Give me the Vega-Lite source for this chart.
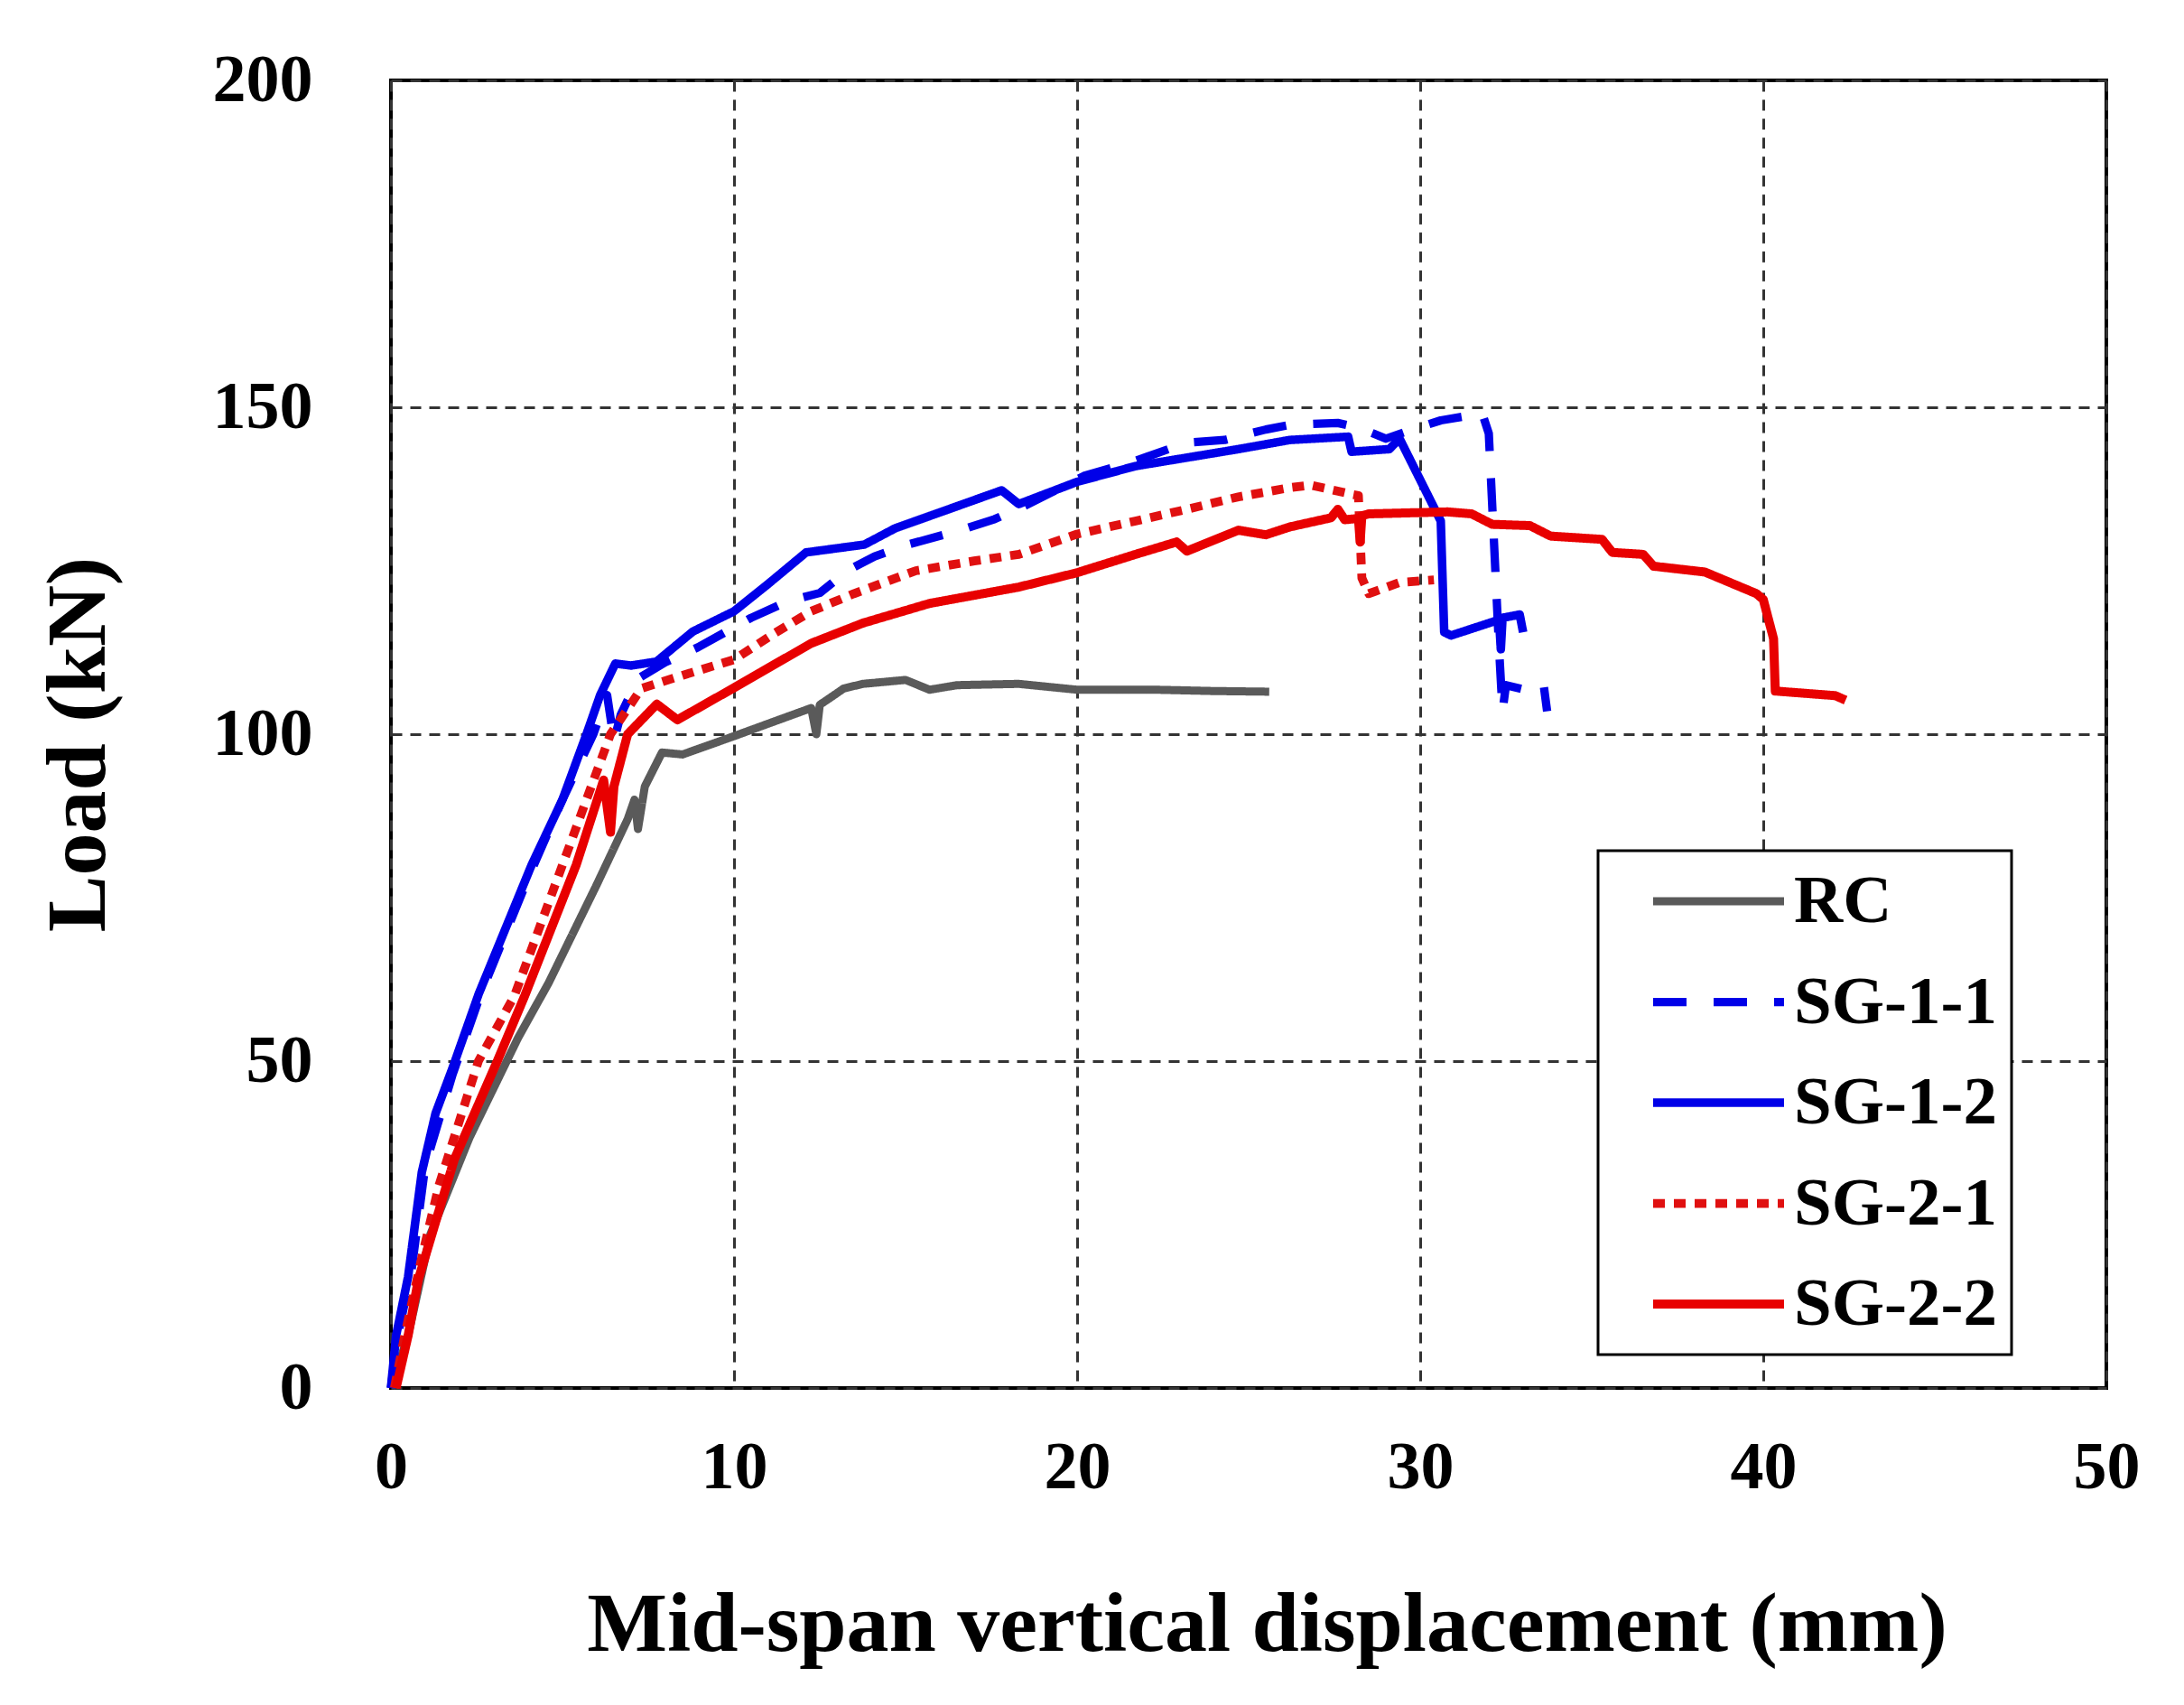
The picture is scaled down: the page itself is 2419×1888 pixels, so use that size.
{
  "$schema": "https://vega.github.io/schema/vega-lite/v6.json",
  "description": "Load versus mid-span vertical displacement for RC and SG beams",
  "width": 1900,
  "height": 1448,
  "autosize": {"type": "none"},
  "padding": {"left": 433, "top": 89, "right": 86, "bottom": 351},
  "background": "white",
  "data": {
    "values": [
      {"s": "RC", "i": 0, "x": 0, "y": 0},
      {"s": "RC", "i": 1, "x": 0.5, "y": 8},
      {"s": "RC", "i": 2, "x": 1.15, "y": 23.5},
      {"s": "RC", "i": 3, "x": 2.29, "y": 38.3},
      {"s": "RC", "i": 4, "x": 3.7, "y": 53.5},
      {"s": "RC", "i": 5, "x": 4.6, "y": 62},
      {"s": "RC", "i": 6, "x": 6.0, "y": 77},
      {"s": "RC", "i": 7, "x": 6.9, "y": 87},
      {"s": "RC", "i": 8, "x": 7.1, "y": 90},
      {"s": "RC", "i": 9, "x": 7.2, "y": 85.5},
      {"s": "RC", "i": 10, "x": 7.4, "y": 92},
      {"s": "RC", "i": 11, "x": 7.9, "y": 97.2},
      {"s": "RC", "i": 12, "x": 8.5, "y": 96.9},
      {"s": "RC", "i": 13, "x": 10, "y": 99.7},
      {"s": "RC", "i": 14, "x": 11.2, "y": 102},
      {"s": "RC", "i": 15, "x": 12.25, "y": 104},
      {"s": "RC", "i": 16, "x": 12.4, "y": 100},
      {"s": "RC", "i": 17, "x": 12.5, "y": 104.5},
      {"s": "RC", "i": 18, "x": 12.7, "y": 105.2},
      {"s": "RC", "i": 19, "x": 13.2, "y": 107},
      {"s": "RC", "i": 20, "x": 13.76, "y": 107.7},
      {"s": "RC", "i": 21, "x": 15, "y": 108.3},
      {"s": "RC", "i": 22, "x": 15.7, "y": 106.8},
      {"s": "RC", "i": 23, "x": 16.5, "y": 107.5},
      {"s": "RC", "i": 24, "x": 18.3, "y": 107.7},
      {"s": "RC", "i": 25, "x": 20, "y": 106.8},
      {"s": "RC", "i": 26, "x": 22.3, "y": 106.8},
      {"s": "RC", "i": 27, "x": 24, "y": 106.6},
      {"s": "RC", "i": 28, "x": 25.6, "y": 106.5},

      {"s": "SG-1-1", "i": 0, "x": 0, "y": 0},
      {"s": "SG-1-1", "i": 1, "x": 0.2, "y": 8},
      {"s": "SG-1-1", "i": 2, "x": 0.6, "y": 18},
      {"s": "SG-1-1", "i": 3, "x": 1.0, "y": 34},
      {"s": "SG-1-1", "i": 4, "x": 1.8, "y": 48},
      {"s": "SG-1-1", "i": 5, "x": 2.6, "y": 60},
      {"s": "SG-1-1", "i": 6, "x": 4.0, "y": 78},
      {"s": "SG-1-1", "i": 7, "x": 5.0, "y": 90},
      {"s": "SG-1-1", "i": 8, "x": 5.9, "y": 100},
      {"s": "SG-1-1", "i": 9, "x": 6.3, "y": 106},
      {"s": "SG-1-1", "i": 10, "x": 6.5, "y": 99},
      {"s": "SG-1-1", "i": 11, "x": 6.7, "y": 103},
      {"s": "SG-1-1", "i": 12, "x": 7.2, "y": 108.5},
      {"s": "SG-1-1", "i": 13, "x": 8.0, "y": 111},
      {"s": "SG-1-1", "i": 14, "x": 8.95, "y": 113.3},
      {"s": "SG-1-1", "i": 15, "x": 10.5, "y": 117.8},
      {"s": "SG-1-1", "i": 16, "x": 11.6, "y": 120.4},
      {"s": "SG-1-1", "i": 17, "x": 12.5, "y": 121.6},
      {"s": "SG-1-1", "i": 18, "x": 13.3, "y": 125},
      {"s": "SG-1-1", "i": 19, "x": 14.1, "y": 127.2},
      {"s": "SG-1-1", "i": 20, "x": 15, "y": 128.9},
      {"s": "SG-1-1", "i": 21, "x": 16.6, "y": 131.2},
      {"s": "SG-1-1", "i": 22, "x": 17.6, "y": 132.9},
      {"s": "SG-1-1", "i": 23, "x": 18.5, "y": 135},
      {"s": "SG-1-1", "i": 24, "x": 20.2, "y": 139.5},
      {"s": "SG-1-1", "i": 25, "x": 21.7, "y": 141.8},
      {"s": "SG-1-1", "i": 26, "x": 23.2, "y": 144.6},
      {"s": "SG-1-1", "i": 27, "x": 24.3, "y": 145},
      {"s": "SG-1-1", "i": 28, "x": 25.5, "y": 146.6},
      {"s": "SG-1-1", "i": 29, "x": 26.2, "y": 147.3},
      {"s": "SG-1-1", "i": 30, "x": 27.6, "y": 147.6},
      {"s": "SG-1-1", "i": 31, "x": 28.2, "y": 146.9},
      {"s": "SG-1-1", "i": 32, "x": 29.0, "y": 145.2},
      {"s": "SG-1-1", "i": 33, "x": 29.6, "y": 146.3},
      {"s": "SG-1-1", "i": 34, "x": 30.6, "y": 148},
      {"s": "SG-1-1", "i": 35, "x": 31.4, "y": 148.7},
      {"s": "SG-1-1", "i": 36, "x": 31.8, "y": 149.2},
      {"s": "SG-1-1", "i": 37, "x": 32.0, "y": 146},
      {"s": "SG-1-1", "i": 38, "x": 32.3, "y": 113},
      {"s": "SG-1-1", "i": 39, "x": 32.4, "y": 103.5},
      {"s": "SG-1-1", "i": 40, "x": 32.5, "y": 107.5},
      {"s": "SG-1-1", "i": 41, "x": 33.3, "y": 106.5},
      {"s": "SG-1-1", "i": 42, "x": 33.6, "y": 107.5},
      {"s": "SG-1-1", "i": 43, "x": 33.7, "y": 103.5},

      {"s": "SG-1-2", "i": 0, "x": 0, "y": 0},
      {"s": "SG-1-2", "i": 1, "x": 0.15, "y": 8},
      {"s": "SG-1-2", "i": 2, "x": 0.5, "y": 17},
      {"s": "SG-1-2", "i": 3, "x": 0.9, "y": 33},
      {"s": "SG-1-2", "i": 4, "x": 1.3, "y": 42},
      {"s": "SG-1-2", "i": 5, "x": 1.8, "y": 49},
      {"s": "SG-1-2", "i": 6, "x": 2.56, "y": 60.3},
      {"s": "SG-1-2", "i": 7, "x": 4.1, "y": 80},
      {"s": "SG-1-2", "i": 8, "x": 5.0, "y": 90},
      {"s": "SG-1-2", "i": 9, "x": 5.7, "y": 100},
      {"s": "SG-1-2", "i": 10, "x": 6.1, "y": 106},
      {"s": "SG-1-2", "i": 11, "x": 6.54, "y": 110.8},
      {"s": "SG-1-2", "i": 12, "x": 7.0, "y": 110.5},
      {"s": "SG-1-2", "i": 13, "x": 7.74, "y": 111.1},
      {"s": "SG-1-2", "i": 14, "x": 8.8, "y": 115.7},
      {"s": "SG-1-2", "i": 15, "x": 10, "y": 118.8},
      {"s": "SG-1-2", "i": 16, "x": 11.0, "y": 123},
      {"s": "SG-1-2", "i": 17, "x": 12.1, "y": 127.8},
      {"s": "SG-1-2", "i": 18, "x": 13.8, "y": 129},
      {"s": "SG-1-2", "i": 19, "x": 14.7, "y": 131.5},
      {"s": "SG-1-2", "i": 20, "x": 16.2, "y": 134.3},
      {"s": "SG-1-2", "i": 21, "x": 17.8, "y": 137.3},
      {"s": "SG-1-2", "i": 22, "x": 18.3, "y": 135.2},
      {"s": "SG-1-2", "i": 23, "x": 20, "y": 138.6},
      {"s": "SG-1-2", "i": 24, "x": 21.7, "y": 141},
      {"s": "SG-1-2", "i": 25, "x": 23.2, "y": 142.3},
      {"s": "SG-1-2", "i": 26, "x": 24.7, "y": 143.6},
      {"s": "SG-1-2", "i": 27, "x": 26.2, "y": 145},
      {"s": "SG-1-2", "i": 28, "x": 27.9, "y": 145.5},
      {"s": "SG-1-2", "i": 29, "x": 28.0, "y": 143.2},
      {"s": "SG-1-2", "i": 30, "x": 29.1, "y": 143.6},
      {"s": "SG-1-2", "i": 31, "x": 29.4, "y": 145.2},
      {"s": "SG-1-2", "i": 32, "x": 30.6, "y": 132.6},
      {"s": "SG-1-2", "i": 33, "x": 30.7, "y": 115.6},
      {"s": "SG-1-2", "i": 34, "x": 30.9, "y": 115.1},
      {"s": "SG-1-2", "i": 35, "x": 32.3, "y": 117.5},
      {"s": "SG-1-2", "i": 36, "x": 32.35, "y": 113},
      {"s": "SG-1-2", "i": 37, "x": 32.4, "y": 117.8},
      {"s": "SG-1-2", "i": 38, "x": 32.9, "y": 118.3},
      {"s": "SG-1-2", "i": 39, "x": 33.0, "y": 115.6},

      {"s": "SG-2-1", "i": 0, "x": 0.1, "y": 0},
      {"s": "SG-2-1", "i": 1, "x": 0.4, "y": 8},
      {"s": "SG-2-1", "i": 2, "x": 0.9, "y": 20},
      {"s": "SG-2-1", "i": 3, "x": 1.4, "y": 31},
      {"s": "SG-2-1", "i": 4, "x": 2.55, "y": 50},
      {"s": "SG-2-1", "i": 5, "x": 3.6, "y": 60},
      {"s": "SG-2-1", "i": 6, "x": 5.0, "y": 80},
      {"s": "SG-2-1", "i": 7, "x": 6.4, "y": 100},
      {"s": "SG-2-1", "i": 8, "x": 7.3, "y": 107},
      {"s": "SG-2-1", "i": 9, "x": 8.5, "y": 109},
      {"s": "SG-2-1", "i": 10, "x": 10, "y": 111.4},
      {"s": "SG-2-1", "i": 11, "x": 11.2, "y": 115.5},
      {"s": "SG-2-1", "i": 12, "x": 12.25, "y": 118.8},
      {"s": "SG-2-1", "i": 13, "x": 13.5, "y": 121.5},
      {"s": "SG-2-1", "i": 14, "x": 15.3, "y": 125},
      {"s": "SG-2-1", "i": 15, "x": 17, "y": 126.5},
      {"s": "SG-2-1", "i": 16, "x": 18.3, "y": 127.5},
      {"s": "SG-2-1", "i": 17, "x": 20, "y": 130.6},
      {"s": "SG-2-1", "i": 18, "x": 21.7, "y": 132.6},
      {"s": "SG-2-1", "i": 19, "x": 23.2, "y": 134.4},
      {"s": "SG-2-1", "i": 20, "x": 24.7, "y": 136.3},
      {"s": "SG-2-1", "i": 21, "x": 26.2, "y": 137.7},
      {"s": "SG-2-1", "i": 22, "x": 26.8, "y": 138.1},
      {"s": "SG-2-1", "i": 23, "x": 28.0, "y": 136.7},
      {"s": "SG-2-1", "i": 24, "x": 28.2, "y": 136.5},
      {"s": "SG-2-1", "i": 25, "x": 28.3, "y": 123.9},
      {"s": "SG-2-1", "i": 26, "x": 28.5, "y": 121.5},
      {"s": "SG-2-1", "i": 27, "x": 29.4, "y": 123.2},
      {"s": "SG-2-1", "i": 28, "x": 30.4, "y": 123.6},

      {"s": "SG-2-2", "i": 0, "x": 0.15, "y": 0},
      {"s": "SG-2-2", "i": 1, "x": 0.5, "y": 8},
      {"s": "SG-2-2", "i": 2, "x": 0.8, "y": 16.6},
      {"s": "SG-2-2", "i": 3, "x": 1.85, "y": 35},
      {"s": "SG-2-2", "i": 4, "x": 3.1, "y": 50},
      {"s": "SG-2-2", "i": 5, "x": 3.9, "y": 60},
      {"s": "SG-2-2", "i": 6, "x": 5.4, "y": 80},
      {"s": "SG-2-2", "i": 7, "x": 6.2, "y": 93},
      {"s": "SG-2-2", "i": 8, "x": 6.4, "y": 85},
      {"s": "SG-2-2", "i": 9, "x": 6.5, "y": 92},
      {"s": "SG-2-2", "i": 10, "x": 6.9, "y": 100},
      {"s": "SG-2-2", "i": 11, "x": 7.75, "y": 104.6},
      {"s": "SG-2-2", "i": 12, "x": 8.35, "y": 102.2},
      {"s": "SG-2-2", "i": 13, "x": 10, "y": 107.1},
      {"s": "SG-2-2", "i": 14, "x": 12.25, "y": 113.9},
      {"s": "SG-2-2", "i": 15, "x": 13.76, "y": 117},
      {"s": "SG-2-2", "i": 16, "x": 15.7, "y": 120},
      {"s": "SG-2-2", "i": 17, "x": 18.3, "y": 122.5},
      {"s": "SG-2-2", "i": 18, "x": 20, "y": 124.7},
      {"s": "SG-2-2", "i": 19, "x": 21.7, "y": 127.5},
      {"s": "SG-2-2", "i": 20, "x": 22.9, "y": 129.4},
      {"s": "SG-2-2", "i": 21, "x": 23.2, "y": 128},
      {"s": "SG-2-2", "i": 22, "x": 24.7, "y": 131.2},
      {"s": "SG-2-2", "i": 23, "x": 25.5, "y": 130.5},
      {"s": "SG-2-2", "i": 24, "x": 26.2, "y": 131.7},
      {"s": "SG-2-2", "i": 25, "x": 27.4, "y": 133.1},
      {"s": "SG-2-2", "i": 26, "x": 27.6, "y": 134.4},
      {"s": "SG-2-2", "i": 27, "x": 27.8, "y": 132.8},
      {"s": "SG-2-2", "i": 28, "x": 28.2, "y": 133},
      {"s": "SG-2-2", "i": 29, "x": 28.25, "y": 129.4},
      {"s": "SG-2-2", "i": 30, "x": 28.3, "y": 133.4},
      {"s": "SG-2-2", "i": 31, "x": 28.5, "y": 133.7},
      {"s": "SG-2-2", "i": 32, "x": 30.8, "y": 134},
      {"s": "SG-2-2", "i": 33, "x": 31.5, "y": 133.7},
      {"s": "SG-2-2", "i": 34, "x": 32.1, "y": 132.1},
      {"s": "SG-2-2", "i": 35, "x": 33.2, "y": 131.9},
      {"s": "SG-2-2", "i": 36, "x": 33.8, "y": 130.3},
      {"s": "SG-2-2", "i": 37, "x": 35.3, "y": 129.8},
      {"s": "SG-2-2", "i": 38, "x": 35.6, "y": 127.8},
      {"s": "SG-2-2", "i": 39, "x": 36.5, "y": 127.5},
      {"s": "SG-2-2", "i": 40, "x": 36.8, "y": 125.7},
      {"s": "SG-2-2", "i": 41, "x": 38.3, "y": 124.8},
      {"s": "SG-2-2", "i": 42, "x": 39.8, "y": 121.5},
      {"s": "SG-2-2", "i": 43, "x": 40.0, "y": 120.6},
      {"s": "SG-2-2", "i": 44, "x": 40.3, "y": 114.6},
      {"s": "SG-2-2", "i": 45, "x": 40.35, "y": 106.6},
      {"s": "SG-2-2", "i": 46, "x": 42.1, "y": 105.9},
      {"s": "SG-2-2", "i": 47, "x": 42.4, "y": 105.2}
    ]
  },
  "mark": {"type": "line", "strokeJoin": "round"},
  "encoding": {
    "x": {
      "field": "x",
      "type": "quantitative",
      "scale": {"domain": [0, 50], "nice": false, "zero": false},
      "axis": {
        "values": [0, 10, 20, 30, 40, 50],
        "title": "Mid-span vertical displacement (mm)",
        "labelPadding": 52,
        "labelDx": -6,
        "titleX": 970,
        "titleY": 290,
        "titleAlign": "center",
        "titleBaseline": "alphabetic",
        "titleAngle": 0
      }
    },
    "y": {
      "field": "y",
      "type": "quantitative",
      "scale": {"domain": [0, 200], "nice": false},
      "axis": {
        "values": [0, 50, 100, 150, 200],
        "title": "Load (kN)",
        "labelPadding": 87,
        "titleX": -318,
        "titleY": 735,
        "titleAngle": -90,
        "titleAlign": "center",
        "titleBaseline": "alphabetic"
      }
    },
    "order": {"field": "i", "type": "quantitative"},
    "color": {
      "field": "s",
      "type": "nominal",
      "scale": {
        "domain": ["RC", "SG-1-1", "SG-1-2", "SG-2-1", "SG-2-2"],
        "range": ["#5a5a5a", "#0000e8", "#0000e8", "#e01010", "#e80000"]
      },
      "legend": {
        "title": null,
        "orient": "none",
        "legendX": 1337,
        "legendY": 853,
        "padding": 16,
        "fillColor": "white",
        "strokeColor": "black",
        "symbolType": "stroke",
        "symbolSize": 21025,
        "clipHeight": 80,
        "rowPadding": 31.5,
        "symbolOffset": 40,
        "labelOffset": 6,
        "labelFont": "Liberation Serif",
        "labelFontSize": 75,
        "labelFontWeight": "bold",
        "labelColor": "black",
        "labelLimit": 500
      }
    },
    "strokeDash": {
      "field": "s",
      "type": "nominal",
      "scale": {
        "domain": ["RC", "SG-1-1", "SG-1-2", "SG-2-1", "SG-2-2"],
        "range": [[1, 0], [37, 30], [1, 0], [13, 10], [1, 0]]
      }
    },
    "strokeWidth": {
      "field": "s",
      "type": "nominal",
      "scale": {
        "domain": ["RC", "SG-1-1", "SG-1-2", "SG-2-1", "SG-2-2"],
        "range": [9, 10, 10, 7, 6.5]
      }
    }
  },
  "config": {
    "view": {"stroke": "black", "strokeWidth": 4},
    "axis": {
      "labelFont": "Liberation Serif",
      "labelFontSize": 74,
      "labelFontWeight": "bold",
      "labelColor": "black",
      "labelFlush": false,
      "labelOverlap": false,
      "titleFont": "Liberation Serif",
      "titleFontSize": 94,
      "titleFontWeight": "bold",
      "titleColor": "black",
      "ticks": false,
      "domain": false,
      "grid": true,
      "gridColor": "#333333",
      "gridDash": [12, 9],
      "gridWidth": 3,
      "gridOpacity": 1
    },
    "legend": {"strokeWidth": 3, "cornerRadius": 0}
  }
}
